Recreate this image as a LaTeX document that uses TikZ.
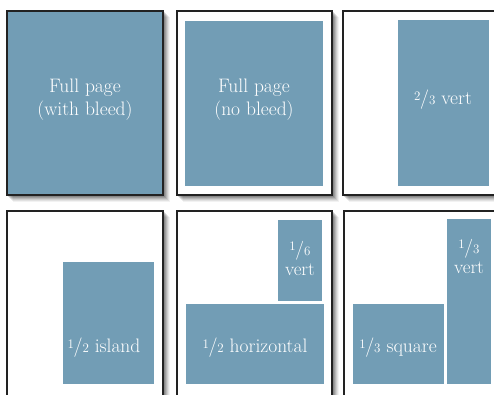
\documentclass[tikz,border=0pt]{standalone}
\usepackage{fontspec}
\setmainfont{Latin Modern Roman}
\definecolor{adblue}{HTML}{729DB5}
\definecolor{pageline}{HTML}{222222}
\newcommand{\vfr}[2]{\raisebox{0.5ex}{\fontsize{13}{13}\selectfont #1}\kern-0.02em/{\fontsize{13}{13}\selectfont #2}}
\begin{document}
\begin{tikzpicture}[x=1pt,y=-1pt,
  page/.style={draw=pageline, line width=1.4pt, fill=white},
  adbox/.style={fill=adblue},
  lbl/.style={text=white, font=\fontsize{19.5}{23}\selectfont, align=center, inner sep=0pt}]
\useasboundingbox (0,0) rectangle (494,394);
\clip (0,0) rectangle (494,394);
% soft shadows
\foreach \x/\y/\w/\h in {7/11/156/184, 177/11/155/184, 343/11/160/184, 7/211/156/200, 177/211/155/200, 344/211/160/200}{
  \foreach \d/\o in {7/0.05,6/0.07,5/0.09,4/0.11,3/0.13,2/0.14}{
    \fill[black, opacity=\o] (\x+\d-1,\y+\d-1) rectangle (\x+\w+\d,\y+\h+\d);
  }
}
% pages
\draw[page, fill=adblue] (7,11) rectangle (163,195);
\draw[page] (177,11) rectangle (332,195);
\draw[page] (343,11) rectangle (503,195);
\draw[page] (7,211) rectangle (163,410);
\draw[page] (177,211) rectangle (332,410);
\draw[page] (344,211) rectangle (504,410);
% ad areas
\node[adbox, anchor=north west, minimum width=138pt, minimum height=165pt, inner sep=0pt] (nobleed) at (185,21) {};
\node[adbox, anchor=north west, minimum width=91pt, minimum height=166pt, inner sep=0pt] (twothirds) at (398,20) {};
\node[adbox, anchor=north west, minimum width=91pt, minimum height=122pt, inner sep=0pt] (island) at (63,262) {};
\node[adbox, anchor=north west, minimum width=44pt, minimum height=81pt, inner sep=0pt] (sixth) at (278,220) {};
\node[adbox, anchor=north west, minimum width=138pt, minimum height=80pt, inner sep=0pt] (halfh) at (186,304) {};
\node[adbox, anchor=north west, minimum width=91pt, minimum height=80pt, inner sep=0pt] (square) at (353,304) {};
\node[adbox, anchor=north west, minimum width=44pt, minimum height=165pt, inner sep=0pt] (thirdv) at (447,219) {};
% labels
\node[lbl] (t1) at (85,100) {Full page\\(with bleed)};
\node[lbl] (t2) at (254,100) {Full page\\(no bleed)};
\node[lbl] (t3) at (443,100) {\vfr{2}{3} vert};
\node[lbl] (t4) at (104,348) {\vfr{1}{2} island};
\node[lbl, font=\fontsize{19}{20}\selectfont] (t5) at (300,258) {\vfr{1}{6}\\vert};
\node[lbl] (t6) at (255,348) {\vfr{1}{2} horizontal};
\node[lbl] (t7) at (398,348) {\vfr{1}{3} square};
\node[lbl, font=\fontsize{19}{20}\selectfont] (t8) at (469,256) {\vfr{1}{3}\\vert};
\end{tikzpicture}
\end{document}
